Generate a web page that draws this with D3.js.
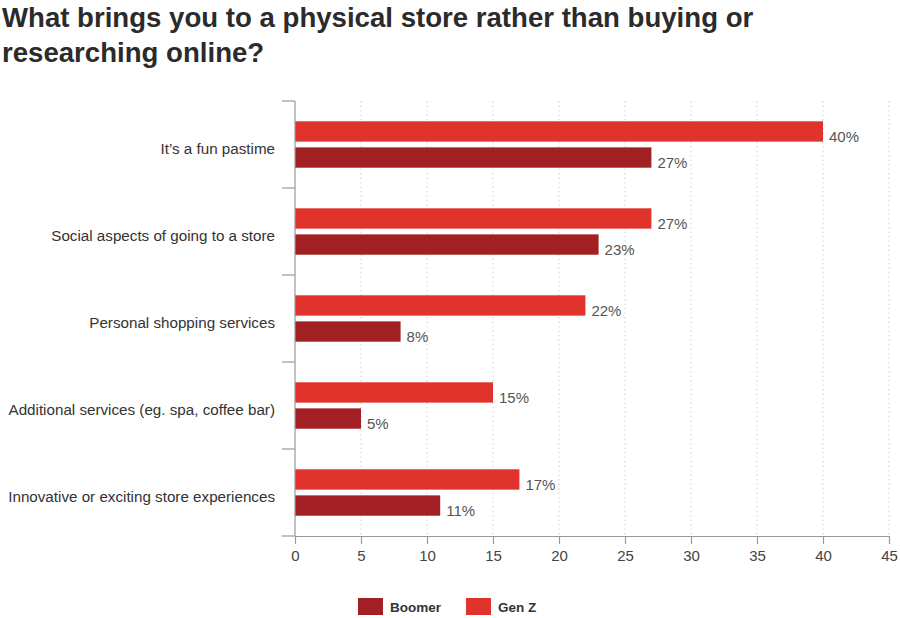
<!DOCTYPE html>
<html>
<head>
<meta charset="utf-8">
<script src="https://cdn.jsdelivr.net/npm/d3@7"></script>
<style>
  body { margin: 0; background: #fff; }
  svg { display: block; font-family: "Liberation Sans", Arial, sans-serif; }
</style>
</head>
<body>
<svg id="chart" width="900" height="618"></svg>
<script>
'use strict';

// Chart data
const categories = [
    'It\u2019s a fun pastime',
    'Social aspects of going to a store',
    'Personal shopping services',
    'Additional services (eg. spa, coffee bar)',
    'Innovative or exciting store experiences'
];
const series = ['Gen Z', 'Boomer'];
const genZ = [40, 27, 22, 15, 17];
const boomer = [27, 23, 8, 5, 11];
const xTicks = [0, 5, 10, 15, 20, 25, 30, 35, 40, 45];
const legendOrder = ['Boomer', 'Gen Z'];

const colors = { 'Gen Z': '#e0332b', 'Boomer': '#a21f24' };

const svg = d3.select('#chart');
const margin = { top: 101, left: 295, right: 11, bottom: 82 };
const height = 618 - margin.top - margin.bottom;

// Title
svg.append('text')
    .attr('x', 2).attr('y', 27)
    .attr('font-size', 27.6).attr('font-weight', 'bold').attr('fill', '#2b2b2b')
    .text('What brings you to a physical store rather than buying or');
svg.append('text')
    .attr('x', 2).attr('y', 62)
    .attr('font-size', 27.6).attr('font-weight', 'bold').attr('fill', '#2b2b2b')
    .text('researching online?');

const g = svg.append('g').attr('transform', `translate(${margin.left},${margin.top})`);

const x = d3.scaleLinear().domain([0, 45]).range([0, 594]);
const y0 = d3.scaleBand().domain(categories).range([0, height]).padding(0);
const y1 = d3.scaleBand().domain(series).range([20.3, y0.bandwidth() - 20.3]).paddingInner(0.22);

// Dotted gridlines
g.append('g').selectAll('line')
    .data(xTicks.filter(d => d > 0))
    .enter().append('line')
    .attr('x1', d => x(d)).attr('x2', d => x(d))
    .attr('y1', 0).attr('y2', height)
    .attr('stroke', '#cfcfcf').attr('stroke-width', 1)
    .attr('stroke-dasharray', '1.5,3');

// Bars
const rows = categories.map((c, i) => ({ cat: c, values: [
    { key: 'Gen Z', value: genZ[i] },
    { key: 'Boomer', value: boomer[i] }
] }));

const groups = g.selectAll('.cat')
    .data(rows).enter().append('g')
    .attr('class', 'cat')
    .attr('transform', d => `translate(0,${y0(d.cat)})`);

groups.selectAll('rect')
    .data(d => d.values).enter().append('rect')
    .attr('x', 0)
    .attr('y', d => y1(d.key))
    .attr('width', d => x(d.value))
    .attr('height', y1.bandwidth())
    .attr('fill', d => colors[d.key]);

groups.selectAll('text.val')
    .data(d => d.values).enter().append('text')
    .attr('class', 'val')
    .attr('x', d => x(d.value) + 6)
    .attr('y', d => y1(d.key) + y1.bandwidth())
    .attr('font-size', 15).attr('fill', '#555')
    .text(d => d.value + '%');

// Category labels
g.append('g').selectAll('text')
    .data(categories).enter().append('text')
    .attr('x', -20)
    .attr('y', d => y0(d) + y0.bandwidth() / 2 + 9)
    .attr('text-anchor', 'end')
    .attr('font-size', 15.2).attr('fill', '#333')
    .text(d => d);

// Y axis line and ticks at band edges
g.append('line')
    .attr('x1', 0).attr('x2', 0).attr('y1', 0).attr('y2', height)
    .attr('stroke', '#999').attr('stroke-width', 1.2);
const edges = categories.map(c => y0(c)).concat([height]);
g.append('g').selectAll('line')
    .data(edges).enter().append('line')
    .attr('x1', -13).attr('x2', 0)
    .attr('y1', d => d).attr('y2', d => d)
    .attr('stroke', '#999').attr('stroke-width', 1.2);

// X axis
const xAxis = g.append('g')
    .attr('transform', `translate(0,${height})`)
    .call(d3.axisBottom(x).tickValues(xTicks).tickSize(8).tickPadding(6).tickSizeOuter(0));
xAxis.select('.domain').attr('stroke', '#999').attr('stroke-width', 1.2);
xAxis.selectAll('.tick line').attr('stroke', '#999').attr('stroke-width', 1.2);
xAxis.selectAll('.tick text')
    .attr('font-size', 15).attr('fill', '#444')
    .attr('font-family', '"Liberation Sans", Arial, sans-serif');

// Legend
const legend = svg.append('g').attr('transform', 'translate(358,598)');
const legendX = { 'Boomer': 0, 'Gen Z': 108 };
const li = legend.selectAll('g').data(legendOrder).enter().append('g')
    .attr('transform', d => `translate(${legendX[d]},0)`);
li.append('rect').attr('width', 25).attr('height', 17).attr('fill', d => colors[d]);
li.append('text').attr('x', 32).attr('y', 14)
    .attr('font-size', 13.5).attr('font-weight', 'bold').attr('fill', '#333')
    .text(d => d);
</script>
</body>
</html>
